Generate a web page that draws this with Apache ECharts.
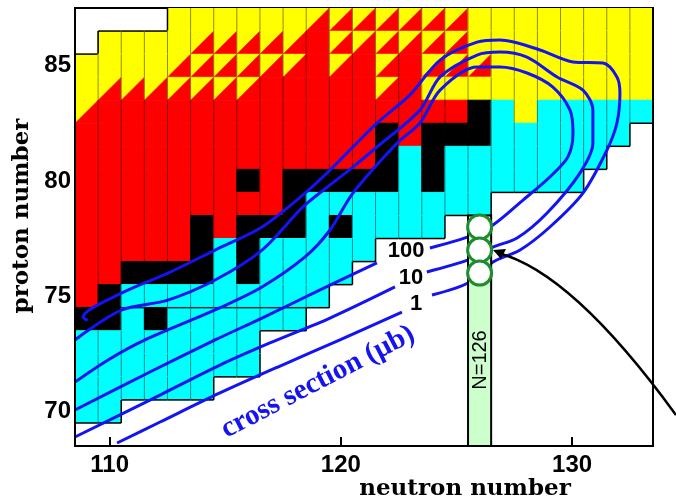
<!DOCTYPE html>
<html>
<head>
<meta charset="utf-8">
<script src="https://cdn.jsdelivr.net/npm/echarts@6.0.0/dist/echarts.min.js"></script>
<style>
html,body{margin:0;padding:0;background:#fff}
#chart{width:676px;height:504px}
</style>
</head>
<body>
<div id="chart"></div>
<script>
// nuclide map: one string per proton row, one char per neutron column
// Y yellow, R red, S split yellow/red, K black, C cyan, W empty
var neutrons = [109,110,111,112,113,114,115,116,117,118,119,120,121,122,123,124,125,126,127,128,129,130,131,132,133];
var protons = [87,86,85,84,83,82,81,80,79,78,77,76,75,74,73,72,71,70,69];
var rows = [
    'WWWWYYYYYYSSSSSSSYYYYYYYY', // 87
    'WYYYYSSSSSRSSSSSSYYYYYYYY', // 86
    'YYYYSSSSSSRSRSRSSSYYYYYYY', // 85
    'YSSSSSSSRRRRRSRYYYYYYYYYY', // 84
    'SRRRRRRRRRRRRRRRRKCYCCCCC', // 83
    'RRRRRRRRRRRRRKRKKKCCCCCCW', // 82
    'RRRRRRRRRRRRRKCKCCCCCCCWW', // 81
    'RRRRRRRKRKKKKKCKCCCCCCWWW', // 80
    'RRRRRRRRRKCCCCCCCCWWWWWWW', // 79
    'RRRRRKRKKKCKCCCCWWWWWWWWW', // 78
    'RRRRRKCKCCCCCWWWWWWWWWWWW', // 77
    'RRKKKKCKCCCCWWWWWWWWWWWWW', // 76
    'RKCCCCCCCCCWWWWWWWWWWWWWW', // 75
    'KKCKCCCCCCWWWWWWWWWWWWWWW', // 74
    'CCCCCCCCWWWWWWWWWWWWWWWWW', // 73
    'CCCCCCCCWWWWWWWWWWWWWWWWW', // 72
    'CCCCCCWWWWWWWWWWWWWWWWWWW', // 71
    'CCWWWWWWWWWWWWWWWWWWWWWWW', // 70
    'WWWWWWWWWWWWWWWWWWWWWWWWW'  // 69
];
var seamZ = 74; // row whose top edge shows a dark seam
var xTicks = [110, 120, 130];
var yTicks = [70, 75, 80, 85];

// cross section contours [N, Z]; outer part runs round the loop to the label
var c100Outer = [[108.5,71.27],[109.93,72.23],[111.53,73.10],[114.56,74.40],[116.59,75.40],[118.45,76.70],[119.53,77.87],[120.52,79.47],[122.43,81.64],[123.42,82.51],[124.29,83.94],[125.89,84.94],[126.88,84.94],[128.05,84.68],[129.17,84.07],[129.91,83.07],[130.04,82.08],[129.82,81.04],[129.04,80.17],[127.88,79.17],[126.58,78.09],[125.50,77.57],[123.85,77.09]];
var c100Lower = [[121.56,76.44],[119.10,75.27],[116.59,74.05],[114.56,73.10],[111.74,71.71],[108.5,70.06]];
var c10Outer = [[108.5,73.10],[110.53,74.40],[112.52,74.83],[114.56,75.70],[116.59,77.00],[118.36,78.87],[119.53,79.82],[120.52,80.60],[121.56,81.47],[123.42,83.07],[124.29,84.51],[125.89,85.46],[126.88,85.59],[128.05,85.37],[129.35,84.51],[130.47,83.94],[130.90,83.07],[130.90,81.64],[130.34,80.34],[128.92,78.61],[127.62,77.52],[126.58,77.13],[125.50,76.57],[123.72,76.05]];
var c10Lower = [[122.34,75.40],[119.53,74.05],[116.93,72.97],[114.77,72.01],[111.74,70.49],[108.5,68.89]];
var c1Outer = [[109.05,73.95],[108.85,74.09],[110.53,75.14],[112.52,76.00],[114.56,77.00],[116.59,78.00],[118.36,79.39],[119.53,80.47],[120.52,81.47],[121.56,82.51],[122.99,83.73],[124.29,85.24],[125.89,86.02],[126.88,86.11],[128.61,85.68],[130.04,85.16],[131.34,85.11],[131.94,84.51],[132.07,83.81],[131.94,82.51],[131.51,81.34],[130.47,79.47],[129.04,78.00],[127.75,77.00],[126.58,76.48],[125.50,75.57],[123.94,75.05]];
var c1Lower = [[122.64,74.31],[119.96,73.10],[117.37,71.97],[114.77,70.80],[112.18,69.54],[110.32,68.63]];

var contourLabels = ['100', '10', '1'];
var contourLabelN = [122.82, 123.03, 123.25];
var contourLabelZ = [76.96, 75.79, 74.66];

var magicN = 126;
var circleZ = [78, 77, 76];
var barZ = [68.5, 78.5];

var colors = {Y:'#ffff00', R:'#ff0000', K:'#000000', C:'#00ffff'};

function codeAt(n, z) {
    var ci = n - neutrons[0], ri = protons[0] - z;
    if (ci < 0 || ci >= neutrons.length || ri < 0 || ri >= protons.length) return null;
    return rows[ri].charAt(ci);
}

var cells = [];
protons.forEach(function (z, ri) {
    neutrons.forEach(function (n, ci) {
        var c = rows[ri].charAt(ci);
        if (c !== 'W') cells.push([n, z, c]);
    });
});

function renderCell(params, api) {
    var n = api.value(0), z = api.value(1);
    var code = cells[params.dataIndex][2];
    var tl = api.coord([n - 0.5, z + 0.5]);
    var br = api.coord([n + 0.5, z - 0.5]);
    var x0 = tl[0], y0 = tl[1], x1 = br[0], y1 = br[1];
    var ch = [];
    if (code === 'S') {
        ch.push({type:'polygon', shape:{points:[[x0,y0],[x1,y0],[x0,y1]]}, style:{fill:colors.Y, stroke:colors.Y, lineWidth:0.5}});
        ch.push({type:'polygon', shape:{points:[[x1,y0],[x1,y1],[x0,y1]]}, style:{fill:colors.R, stroke:colors.R, lineWidth:0.5}});
    } else {
        ch.push({type:'rect', shape:{x:x0, y:y0, width:x1-x0, height:y1-y0}, style:{fill:colors[code], stroke:colors[code], lineWidth:1}});
    }
    ch.push({type:'line', shape:{x1:x0, y1:y0, x2:x0, y2:y1}, style:{stroke:'rgba(0,0,0,0.45)', lineWidth:1}});
    var edge = {stroke:'#000', lineWidth:1.5};
    if (z === seamZ) ch.push({type:'line', shape:{x1:x0, y1:y0, x2:x1, y2:y0}, style:{stroke:'rgba(0,0,0,0.8)', lineWidth:1.5}});
    if (codeAt(n, z - 1) === 'W') ch.push({type:'line', shape:{x1:x0, y1:y1, x2:x1, y2:y1}, style:edge});
    if (codeAt(n, z + 1) === 'W') ch.push({type:'line', shape:{x1:x0, y1:y0, x2:x1, y2:y0}, style:edge});
    if (codeAt(n + 1, z) === 'W') ch.push({type:'line', shape:{x1:x1, y1:y0, x2:x1, y2:y1}, style:edge});
    if (codeAt(n - 1, z) === 'W') ch.push({type:'line', shape:{x1:x0, y1:y0, x2:x0, y2:y1}, style:edge});
    return {type:'group', children:ch};
}

function contour(data) {
    return {
        type:'line', data:data, showSymbol:false, smooth:0.3, z:3,
        lineStyle:{color:'#1414f0', width:3}, silent:true
    };
}

var chart = echarts.init(document.getElementById('chart'));
chart.setOption({
    animation:false,
    grid:{left:75, top:8, width:578, height:438, show:true, borderColor:'#000', borderWidth:2},
    xAxis:{
        type:'value', min:108.5, max:133.5, z:10,
        axisLine:{show:true, lineStyle:{color:'#000', width:2}},
        axisTick:{show:true, inside:true, length:9, customValues:xTicks, lineStyle:{color:'#000', width:2}},
        axisLabel:{customValues:xTicks, margin:7, color:'#000', fontSize:24, fontWeight:'bold', fontFamily:'Liberation Sans'},
        splitLine:{show:false}
    },
    yAxis:[{
        type:'value', min:68.5, max:87.5, z:10,
        axisLine:{show:true, lineStyle:{color:'#000', width:2}},
        axisTick:{show:false, customValues:yTicks},
        axisLabel:{customValues:yTicks, margin:4, color:'#000', fontSize:24, fontWeight:'bold', fontFamily:'Liberation Sans'},
        splitLine:{show:false}
    }, {
        type:'value', min:68.5, max:87.5, position:'right', z:10,
        axisLine:{show:true, lineStyle:{color:'#000', width:2}},
        axisTick:{show:false}, axisLabel:{show:false}, splitLine:{show:false}
    }],
    series:[
        {type:'custom', renderItem:renderCell, data:cells, z:1, silent:true, clip:true},
        contour(c100Outer), contour(c100Lower),
        contour(c10Outer), contour(c10Lower),
        contour(c1Outer), contour(c1Lower),
        {
            type:'custom', z:4, silent:true, data:[[magicN, barZ[0], barZ[1]]],
            renderItem:function (params, api) {
                var tl = api.coord([api.value(0) - 0.5, api.value(2)]);
                var br = api.coord([api.value(0) + 0.5, api.value(1)]);
                return {type:'rect', shape:{x:tl[0], y:tl[1], width:br[0]-tl[0], height:br[1]-tl[1]},
                    style:{fill:'#ccffcc', stroke:'#000', lineWidth:2}};
            }
        },
        {
            type:'scatter', z:5, silent:true, symbol:'circle', symbolSize:24,
            data:circleZ.map(function (z) { return [magicN, z]; }),
            itemStyle:{color:'#fff', borderColor:'#1e8c2e', borderWidth:3, opacity:1}
        },
        {
            type:'scatter', z:6, silent:true, symbolSize:0,
            itemStyle:{opacity:1},
            data:contourLabels.map(function (t, i) { return {name:t, value:[contourLabelN[i], contourLabelZ[i]]}; }),
            label:{show:true, position:'inside', formatter:'{b}', color:'#000', opacity:1, fontSize:22, fontWeight:'bold', fontFamily:'Liberation Sans'}
        }
    ],
    graphic:[
        {type:'text', x:465, y:489, z:100, style:{text:'neutron number', font:'bold 23px "DejaVu Serif"', fill:'#000', align:'center', verticalAlign:'middle'}},
        {type:'text', x:22, y:216, rotation:Math.PI/2, z:100, style:{text:'proton number', font:'bold 23px "DejaVu Serif"', fill:'#000', align:'center', verticalAlign:'middle'}},
        {type:'text', x:318, y:382, rotation:0.48, z:100, style:{text:'cross section (\u03bcb)', font:'bold 29px "Liberation Serif"', fill:'#1414f0', align:'center', verticalAlign:'middle'}},
        {type:'text', x:480, y:360, rotation:Math.PI/2, z:100, style:{text:'N=126', font:'20px "Liberation Sans"', fill:'#000', align:'center', verticalAlign:'middle'}},
        {type:'bezierCurve', z:100, shape:{x1:676, y1:415, cpx1:572, cpy1:272, x2:498, y2:253}, style:{stroke:'#000', lineWidth:2.5, fill:null}},
        {type:'polygon', z:100, shape:{points:[[493,250],[506,249],[501,259]]}, style:{fill:'#000'}}
    ]
});
</script>
</body>
</html>
